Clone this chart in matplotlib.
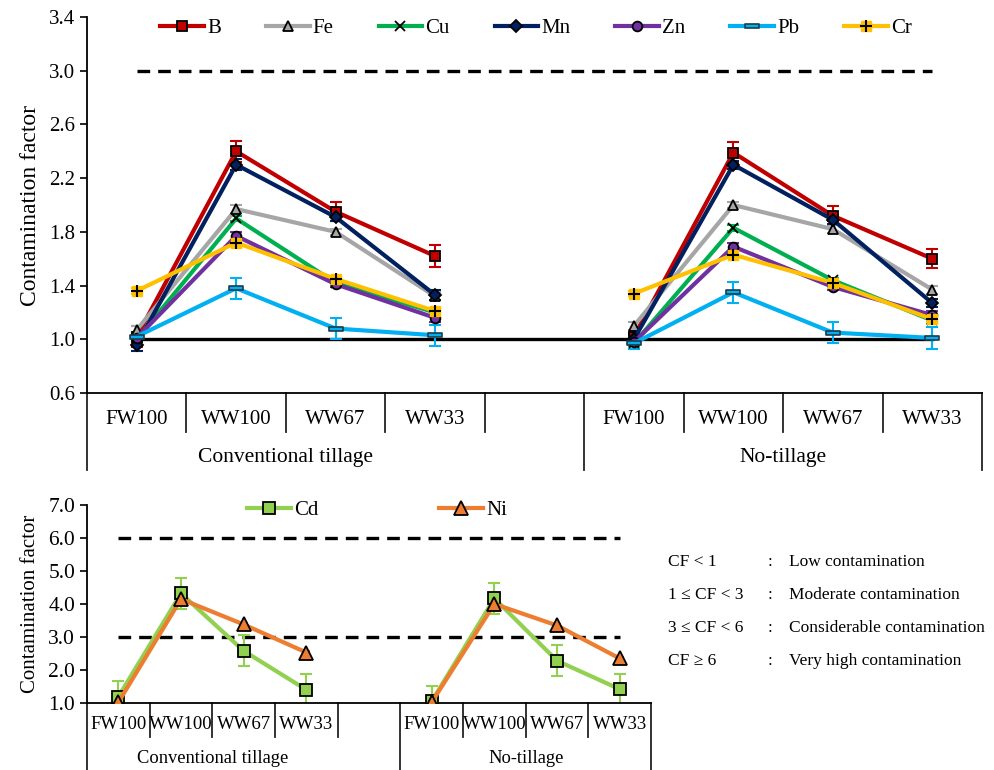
import numpy as np
import matplotlib
matplotlib.use("Agg")
import matplotlib.pyplot as plt
from matplotlib.path import Path

plt.rcParams["font.family"] = ["Liberation Serif", "DejaVu Serif"]

# categories (slot 4 is the empty gap between the two tillage groups)
cats = ["FW100", "WW100", "WW67", "WW33", "", "FW100", "WW100", "WW67", "WW33"]
groups = ["Conventional tillage", "No-tillage"]
nan = np.nan

# top panel: contamination factor, conventional (4) + gap + no-tillage (4)
B = [1.02, 2.40, 1.95, 1.62, nan, 1.02, 2.39, 1.92, 1.60]
Fe = [1.07, 1.97, 1.80, 1.32, nan, 1.10, 2.00, 1.82, 1.37]
Cu = [1.00, 1.90, 1.42, 1.20, nan, 0.97, 1.83, 1.44, 1.14]
Mn = [0.96, 2.30, 1.91, 1.33, nan, 1.00, 2.30, 1.89, 1.27]
Zn = [1.01, 1.77, 1.41, 1.16, nan, 0.98, 1.69, 1.39, 1.18]
Pb = [1.02, 1.38, 1.08, 1.03, nan, 0.97, 1.35, 1.05, 1.01]
Cr = [1.36, 1.72, 1.45, 1.21, nan, 1.34, 1.63, 1.42, 1.15]

B_err = [0.08, 0.08, 0.07, 0.08, nan, 0.03, 0.08, 0.07, 0.07]
Fe_err = [0.03, 0.03, 0.02, 0.03, nan, 0.03, 0.02, 0.03, 0.03]
Cu_err = [0.02, 0.02, 0.02, 0.02, nan, 0.02, 0.02, 0.02, 0.02]
Mn_err = [0.05, 0.04, 0.03, 0.04, nan, 0.03, 0.03, 0.03, 0.03]
Zn_err = [0.02, 0.03, 0.02, 0.03, nan, 0.02, 0.03, 0.02, 0.03]
Pb_err = [0.03, 0.08, 0.08, 0.08, nan, 0.04, 0.08, 0.08, 0.08]
Cr_err = [0.02, 0.02, 0.02, 0.02, nan, 0.02, 0.02, 0.02, 0.02]

# bottom panel
Cd = [1.19, 4.32, 2.58, 1.40, nan, 1.05, 4.17, 2.28, 1.42]
Ni = [1.02, 4.15, 3.38, 2.53, nan, 1.02, 4.00, 3.35, 2.35]
Cd_err = [0.47, 0.47, 0.47, 0.48, nan, 0.47, 0.47, 0.47, 0.47]
Ni_err = [0.05, 0.08, 0.05, 0.05, nan, 0.05, 0.08, 0.05, 0.05]

top_ref = [1.0, 3.0]
bot_ref = [3.0, 6.0]

cf_class = ["CF < 1", "1 \u2264 CF < 3", "3 \u2264 CF < 6", "CF \u2265 6"]
cf_desc = ["Low contamination", "Moderate contamination",
           "Considerable contamination", "Very high contamination"]

W, H = 995, 770
fig = plt.figure(figsize=(W / 100, H / 100), dpi=100)

def px_axes(l, t, r, b):
    return fig.add_axes([l / W, 1 - b / H, (r - l) / W, (b - t) / H])

ax1 = px_axes(87, 17, 982, 393)
ax2 = px_axes(87, 505, 651, 703)

x = np.arange(len(cats))
pb_marker = Path([(-1, -0.35), (1, -0.35), (1, 0.35), (-1, 0.35), (-1, -0.35)],
                 [1, 2, 2, 2, 79])

def category_axis(ax, short, long, lab_y, grp_y, fs_tick, fs_grp, fs_y):
    ax.set_xlim(-0.5, len(cats) - 0.5)
    ax.set_xticks([])
    for s in ["top", "right"]:
        ax.spines[s].set_visible(False)
    ax.spines["left"].set_linewidth(1.3)
    ax.spines["bottom"].set_linewidth(1.3)
    tr = ax.get_xaxis_transform()
    for k in range(len(cats) + 1):
        yb = long if k in (0, 5, 9) else short
        ax.plot([k - 0.5, k - 0.5], [0, yb], transform=tr, color="#222222",
                lw=1.3, clip_on=False)
    for i, c in enumerate(cats):
        ax.text(i, lab_y, c, transform=tr, ha="center", va="center",
                fontsize=fs_tick)
    ax.text(1.5, grp_y, groups[0], transform=tr, ha="center", va="center",
            fontsize=fs_grp)
    ax.text(6.5, grp_y, groups[1], transform=tr, ha="center", va="center",
            fontsize=fs_grp)
    ax.tick_params(axis="y", direction="out", length=5, width=1.2,
                   labelsize=fs_y)

dash = (0, (3.8, 2.4))

# ---- top panel
ax1.set_ylim(0.6, 3.4)
ax1.set_yticks(np.arange(0.6, 3.41, 0.4))
ax1.set_yticklabels([f"{v:.1f}" for v in np.arange(0.6, 3.41, 0.4)])
ax1.plot([0, 8], [top_ref[1]] * 2, color="black", lw=2.4, ls=dash)
ax1.plot([0, 8], [top_ref[0]] * 2, color="black", lw=2.4)

series = [
    ("B", B, B_err, "#C00000", "s", "#C00000"),
    ("Fe", Fe, Fe_err, "#A6A6A6", "^", "#A6A6A6"),
    ("Cu", Cu, Cu_err, "#00B050", "x", "black"),
    ("Mn", Mn, Mn_err, "#002060", "D", "#002060"),
    ("Zn", Zn, Zn_err, "#7030A0", "o", "#7030A0"),
    ("Pb", Pb, Pb_err, "#00B0F0", pb_marker, "#00B0F0"),
    ("Cr", Cr, Cr_err, "#FFC000", "s", "#FFC000"),
]
handles = []
for name, y, e, col, mk, face in series:
    ax1.errorbar(x, y, yerr=e, fmt="none", ecolor=col, elinewidth=1.5,
                 capsize=4, capthick=1.5, zorder=2)
    ms = 6 if mk == "D" else 7
    if name == "Cr":
        ln, = ax1.plot(x, y, color=col, lw=3, marker="s", ms=7, mfc=col,
                       mec=col, zorder=3)
        pl, = ax1.plot(x, y, ls="none", marker="+", ms=9, mec="black",
                       mew=1.5, zorder=4)
        handles.append((ln, pl))
    elif name == "Pb":
        ln, = ax1.plot(x, y, color=col, lw=3, marker=mk, ms=10, mfc=col,
                       mec="#1F3B4D", mew=1.2, zorder=3)
        handles.append(ln)
    else:
        ln, = ax1.plot(x, y, color=col, lw=3, marker=mk, ms=ms, mfc=face,
                       mec="black", mew=1.3, zorder=3)
        handles.append(ln)

ax1.legend(handles, [s[0] for s in series], loc="upper left",
           bbox_to_anchor=(0.068, 1.03), ncol=7, frameon=False, fontsize=15,
           handlelength=2.1, handletextpad=0.15, columnspacing=2.15,
           borderaxespad=0.2)
ax1.set_ylabel("Contamination factor", fontsize=17, labelpad=6)
category_axis(ax1, -0.104, -0.205, -0.07, -0.172, 15, 15.5, 15)

# ---- bottom panel
ax2.set_ylim(1.0, 7.0)
ax2.set_yticks(np.arange(1, 8))
ax2.set_yticklabels([f"{v:.1f}" for v in np.arange(1, 8)])
for r in bot_ref:
    ax2.plot([0, 8], [r, r], color="black", lw=2.4, ls=dash)
ax2.errorbar(x, Cd, yerr=Cd_err, fmt="none", ecolor="#92D050",
             elinewidth=1.5, capsize=4, capthick=1.5, zorder=2)
ax2.errorbar(x, Ni, yerr=Ni_err, fmt="none", ecolor="#ED7D31",
             elinewidth=1.5, capsize=3, capthick=1.5, zorder=2)
hcd, = ax2.plot(x, Cd, color="#92D050", lw=3, marker="s", ms=9,
                mfc="#92D050", mec="black", mew=1.3, zorder=3)
hni, = ax2.plot(x, Ni, color="#ED7D31", lw=3, marker="^", ms=10,
                mfc="#ED7D31", mec="black", mew=1.3, zorder=4)
ax2.legend([hcd, hni], ["Cd", "Ni"], loc="upper left",
           bbox_to_anchor=(0.262, 1.085), ncol=2, frameon=False, fontsize=15,
           handlelength=2.1, handletextpad=0.15, columnspacing=5.8,
           borderaxespad=0.2)
ax2.set_ylabel("Contamination factor", fontsize=15, labelpad=6)
category_axis(ax2, -0.172, -0.34, -0.111, -0.278, 13.5, 13.3, 15.5)

# classification key
for i, (c, d) in enumerate(zip(cf_class, cf_desc)):
    yy = 1 - (562 + 33 * i) / H
    fig.text(668 / W, yy, c, fontsize=12.5, va="center", ha="left")
    fig.text(768 / W, yy, ":", fontsize=12.5, va="center", ha="left")
    fig.text(789 / W, yy, d, fontsize=12.5, va="center", ha="left")

fig.savefig("out.png", dpi=100)
